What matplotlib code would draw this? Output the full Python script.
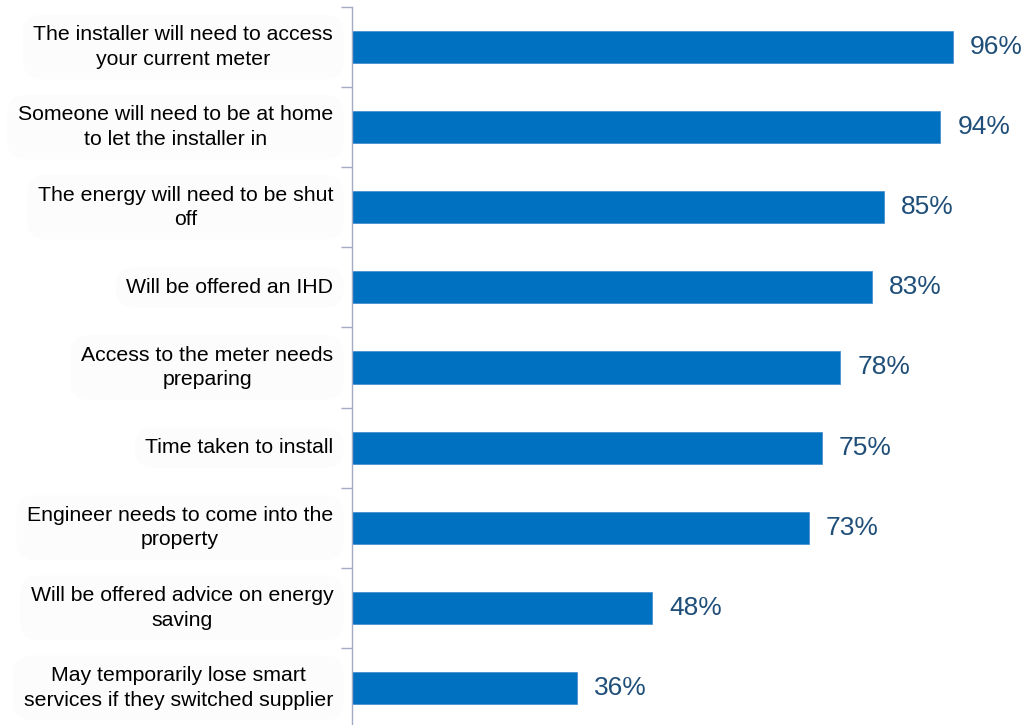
import matplotlib
matplotlib.use("Agg")
import matplotlib.pyplot as plt
from matplotlib.ticker import FixedLocator

categories = [
    "The installer will need to access\nyour current meter",
    "Someone will need to be at home\nto let the installer in",
    "The energy will need to be shut\noff",
    "Will be offered an IHD",
    "Access to the meter needs\npreparing",
    "Time taken to install",
    "Engineer needs to come into the\nproperty",
    "Will be offered advice on energy\nsaving",
    "May temporarily lose smart\nservices if they switched supplier",
]
values = [96, 94, 85, 83, 78, 75, 73, 48, 36]
value_labels = ["96%", "94%", "85%", "83%", "78%", "75%", "73%", "48%", "36%"]

plt.rcParams["font.family"] = ["Liberation Sans", "DejaVu Sans"]

W, H = 1024, 725
fig = plt.figure(figsize=(W / 100, H / 100), dpi=100)
ax = fig.add_axes([352 / W, -3 / H, (W - 352) / W, 721 / H])

bar_color = "#0070C0"
axis_color = "#A3ABC4"

pos = list(range(len(categories)))
ax.barh(pos, values, height=0.4, color=bar_color, edgecolor="#4A90CF", linewidth=0.6)

ax.set_ylim(len(categories) - 0.5, -0.5)
ax.set_xlim(0, (W - 352) / 6.26)

for i, (v, lab) in enumerate(zip(values, value_labels)):
    ax.text(v + 2.7, i, lab, va="center", ha="left", fontsize=19, color="#1F4E79")

for i, cat in enumerate(categories):
    ax.text(-3.0, i, cat, va="center", ha="right", multialignment="center",
            fontsize=15.3, color="#000000", linespacing=1.36,
            bbox=dict(boxstyle="round,pad=0.5,rounding_size=0.9",
                      facecolor="#FCFCFC", edgecolor="none"))

for s in ["top", "right", "bottom"]:
    ax.spines[s].set_visible(False)
ax.spines["left"].set_color(axis_color)
ax.spines["left"].set_linewidth(1.0)

ax.set_xticks([])
ax.yaxis.set_major_locator(FixedLocator([p - 0.5 for p in range(len(categories) + 1)]))
ax.set_yticklabels([])
ax.tick_params(axis="y", length=8, width=1.0, color=axis_color, direction="out")

fig.savefig("out.png", dpi=100, facecolor="white")
